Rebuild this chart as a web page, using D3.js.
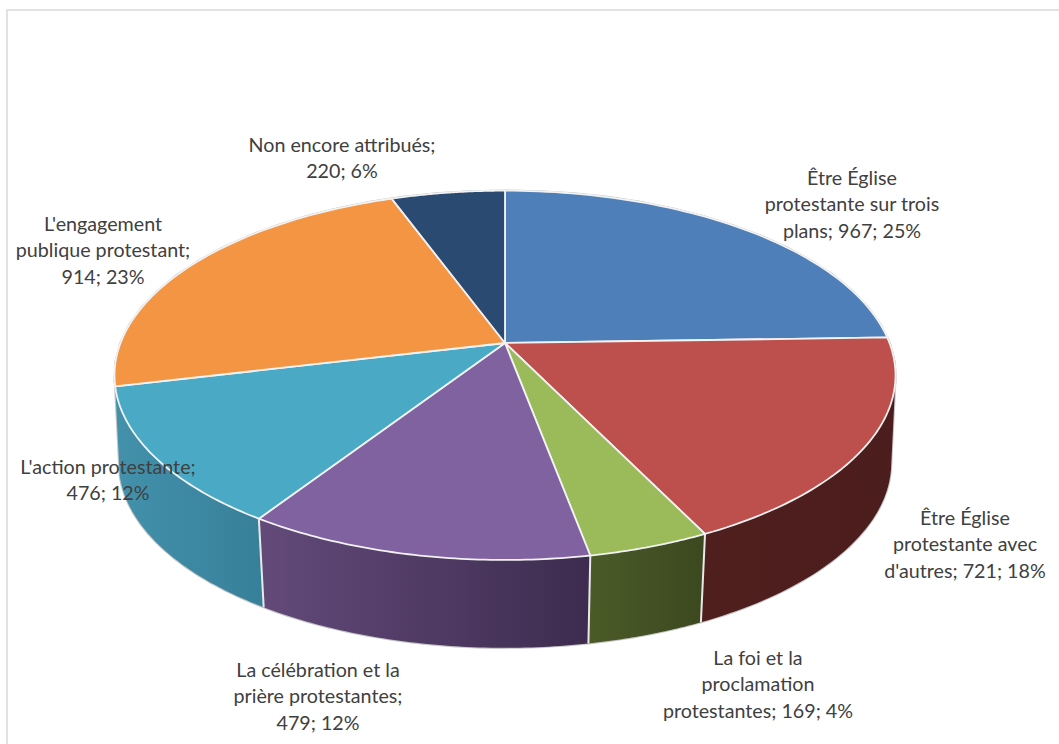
<!DOCTYPE html>
<html><head><meta charset="utf-8">
<style>html,body{margin:0;padding:0;background:#fff}svg{display:block}text{font-family:Lato,"Open Sans",sans-serif;font-size:19.7px;fill:#404040;text-anchor:middle}</style>
<script src="https://cdn.jsdelivr.net/npm/d3@7"></script>
</head><body>
<script>
const categories = [
  ["Être Église","protestante sur trois","plans; "],
  ["Être Église","protestante avec","d'autres; "],
  ["La foi et la","proclamation","protestantes; "],
  ["La célébration et la","prière protestantes;",""],
  ["L'action protestante;",""],
  ["L'engagement","publique protestant;",""],
  ["Non encore attribués;",""]
];
const values = [967,721,169,479,476,914,220];
const topColors = ["#4f7fb9","#bd4f4d","#9bba59","#8062a0","#4aa9c4","#f49544","#2a4a72"];
const wallFrom = ["#3a5f8c","#4f1f1e","#4a5b28","#634a7a","#4391ab","#b06a30","#1e3654"];
const wallTo   = ["#3a5f8c","#4b1d1c","#3c481f","#3d2c4f","#37809a","#b06a30","#1e3654"];
const labelAnchors = [[852,185],[965,525],[758,665],[318,677],[108,474],[103,231],[342,152]];

const W=1059,H=744,cx=505,cy=343,lineH=26.4;
const topPlane={cy:343,A:384.5,B:179,K:0.175};
const botPlane={cy:432.5,A:381,B:180,K:0.164};
const svg=d3.select("body").append("svg").attr("width",W).attr("height",H);
svg.append("rect").attr("x",7).attr("y",10).attr("width",W).attr("height",H)
  .attr("fill","#fff").attr("stroke","#d9d9d9").attr("stroke-width",1.5);

const pie=d3.pie().sort(null)(values);
const total=d3.sum(values);
const project=pl=>t=>{const w=1+pl.K*Math.cos(t);return [cx+pl.A*Math.sin(t)/w,pl.cy-pl.B*Math.cos(t)/w];};
const topPt=project(topPlane),botPt=project(botPlane);
const samples=(a,b)=>d3.range(0,61).map(i=>d3.interpolateNumber(a,b)(i/60));
const line=d3.line();
const defs=svg.append("defs");
const front=pie.filter(d=>Math.cos((d.startAngle+d.endAngle)/2)<0);
const frontStart=d3.min(front,d=>d.startAngle),frontEnd=d3.max(front,d=>d.endAngle);

// builds a wall as one path of consistently wound quads, so the fold at the silhouette stays filled
const wallPath=ts=>d3.pairs(ts).map(([a,b])=>{
  const q=[topPt(a),topPt(b),botPt(b),botPt(a)];
  if(d3.polygonArea(q)<0)q.reverse();
  return line(q)+"Z";
}).join("");

// gray silhouette under everything
svg.append("path").attr("d",line(samples(0,2*Math.PI).map(topPt))+"Z").attr("fill","none").attr("stroke","#bdbdbd").attr("stroke-width",2.4);
svg.append("path").attr("d",wallPath(samples(frontStart,frontEnd))).attr("fill","#c4c4c4").attr("stroke","#c4c4c4").attr("stroke-width",2.2);

// walls (front slices only)
pie.forEach((d,i)=>{
  if(!front.includes(d))return;
  const ts=samples(d.startAngle,d.endAngle);
  const xs=ts.map(t=>topPt(t)[0]);
  const g=defs.append("linearGradient").attr("id","w"+i).attr("gradientUnits","userSpaceOnUse")
    .attr("x1",d3.min(xs)).attr("x2",d3.max(xs)).attr("y1",0).attr("y2",0);
  g.append("stop").attr("offset",0).attr("stop-color",wallFrom[i]);
  g.append("stop").attr("offset",1).attr("stop-color",wallTo[i]);
  svg.append("path").attr("d",wallPath(ts)).attr("fill",`url(#w${i})`);
});
// wall separators
front.forEach(d=>{
  const t=d.startAngle;
  if(t>frontStart){
    svg.append("path").attr("d",line([topPt(t),botPt(t)])).attr("stroke","#e9e9e9").attr("stroke-width",2).attr("fill","none");
  }
});
// top faces
pie.forEach((d,i)=>{
  const ts=samples(d.startAngle,d.endAngle);
  svg.append("path").attr("d",line([[cx,cy]].concat(ts.map(topPt)))+"Z")
    .attr("fill",topColors[i]).attr("stroke","#f2f2f2").attr("stroke-width",1.8).attr("stroke-linejoin","round");
});
// labels
const pct=d3.format(".0%");
const labels=svg.append("g");
pie.forEach((d,i)=>{
  const parts=categories[i].slice();
  parts[parts.length-1]+=`${d.value}; ${pct(d.value/total)}`;
  const t=labels.append("text");
  parts.forEach((s,j)=>t.append("tspan").attr("x",labelAnchors[i][0]).attr("y",labelAnchors[i][1]+j*lineH).text(s));
});
</script>
</body></html>
